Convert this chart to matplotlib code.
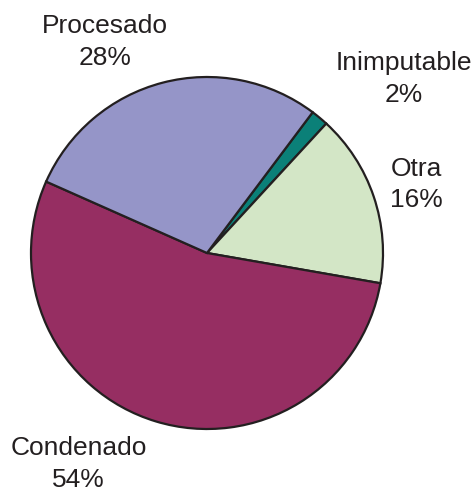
import matplotlib.pyplot as plt
import numpy as np

plt.rcParams['font.family'] = ['Liberation Sans', 'DejaVu Sans']

# slice data, clockwise from the top-right boundary
categories = ['Inimputable', 'Otra', 'Condenado', 'Procesado']
shares = [1.6, 15.9, 53.9, 28.6]
pct_labels = ['2%', '16%', '54%', '28%']
colors = ['#0B8078', '#D3E6C6', '#962E62', '#9595C8']

# where each label sits, in pie radius units
label_pos = {
    'Inimputable': (1.12, 0.99),
    'Otra': (1.19, 0.39),
    'Condenado': (-0.73, -1.20),
    'Procesado': (-0.58, 1.20),
}

fig = plt.figure(figsize=(4.76, 4.88), dpi=100)
ax = fig.add_axes([0, 0, 1, 1])

start = 53.1
ax.pie(shares, colors=colors, startangle=start, counterclock=False,
       radius=1, wedgeprops=dict(edgecolor='#231F20', linewidth=1.6))

for name, pct in zip(categories, pct_labels):
    x, y = label_pos[name]
    ax.text(x, y, name + '\n' + pct, ha='center', va='center',
            fontsize=19, color='#231F20', linespacing=1.4)

ax.set_xlim(-207 / 176, (476 - 207) / 176)
ax.set_ylim(-(488 - 253) / 176, 253 / 176)
ax.set_aspect('equal', adjustable='datalim')
ax.axis('off')

fig.savefig('out.png', dpi=100)
